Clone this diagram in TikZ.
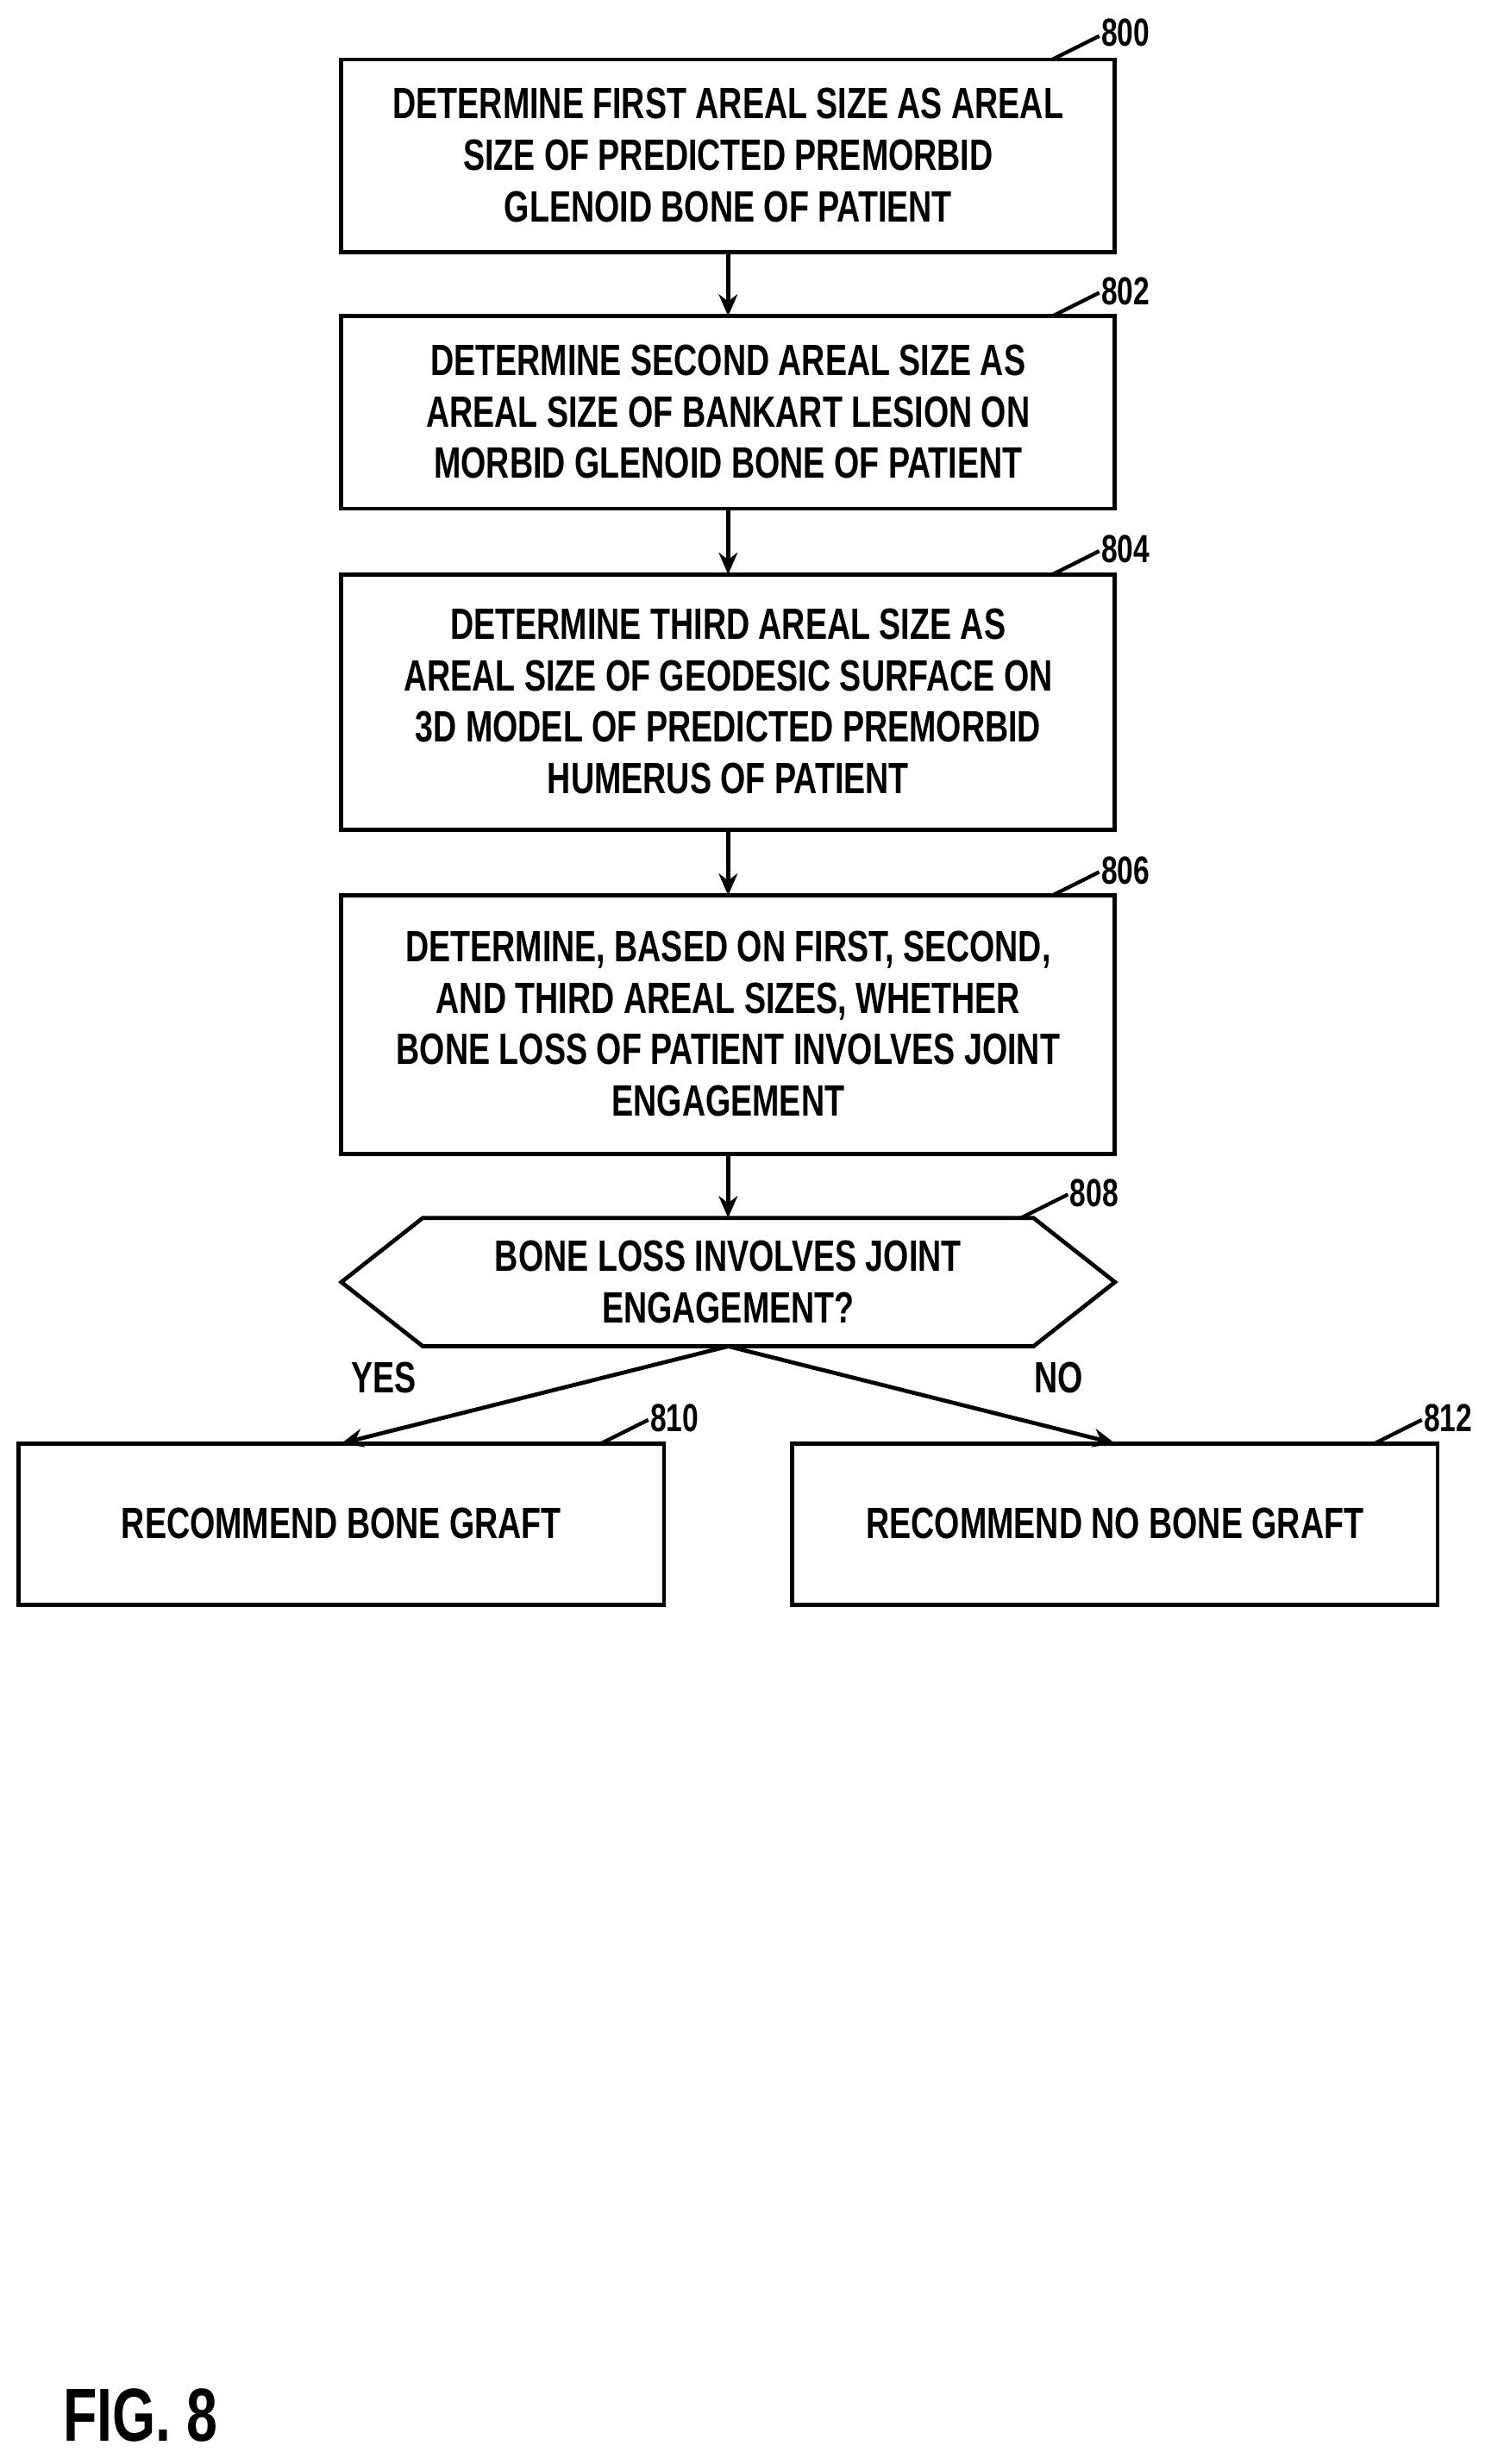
\documentclass[tikz,border=0pt]{standalone}
\usepackage{fontspec}
\setmainfont{Liberation Sans}[FakeStretch=0.74]
\usetikzlibrary{arrows.meta}
\begin{document}
\begin{tikzpicture}[x=0.5pt,y=-0.5pt,
 box/.style={draw,line width=1.3pt,inner sep=0pt},
 txt/.style={align=center,font=\bfseries\fontsize{14}{16.5}\selectfont},
 lab/.style={font=\bfseries\fontsize{12.5}{14}\selectfont,anchor=west,inner sep=0pt},
 tick/.style={line width=1.2pt},
 arr/.style={line width=1.3pt,-{Stealth[length=7pt,width=6pt]}}]
\useasboundingbox (0,0) rectangle (960,1574);
\draw[box] (218,38) rectangle (712,161);
\node[txt] (b800) at (465,99) {DETERMINE FIRST AREAL SIZE AS AREAL\\SIZE OF PREDICTED PREMORBID\\GLENOID BONE OF PATIENT};
\draw[box] (218,202) rectangle (712,325);
\node[txt] (b802) at (465,263) {DETERMINE SECOND AREAL SIZE AS\\AREAL SIZE OF BANKART LESION ON\\MORBID GLENOID BONE OF PATIENT};
\draw[box] (218,367) rectangle (712,530);
\node[txt] (b804) at (465,448) {DETERMINE THIRD AREAL SIZE AS\\AREAL SIZE OF GEODESIC SURFACE ON\\3D MODEL OF PREDICTED PREMORBID\\HUMERUS OF PATIENT};
\draw[box] (218,572) rectangle (712,737);
\node[txt] (b806) at (465,654) {DETERMINE, BASED ON FIRST, SECOND,\\AND THIRD AREAL SIZES, WHETHER\\BONE LOSS OF PATIENT INVOLVES JOINT\\ENGAGEMENT};
\draw[box] (218,819) -- (270,778) -- (660,778) -- (712,819) -- (660,860) -- (270,860) -- cycle;
\node[txt] (b808) at (465,819) {BONE LOSS INVOLVES JOINT\\ENGAGEMENT?};
\draw[box] (12,922) rectangle (424,1025);
\node[txt] (b810) at (218,973) {RECOMMEND BONE GRAFT};
\draw[box] (506,922) rectangle (918,1025);
\node[txt] (b812) at (712,973) {RECOMMEND NO BONE GRAFT};
\coordinate (t800) at (465,161); \coordinate (h802) at (465,202);
\coordinate (t802) at (465,325); \coordinate (h804) at (465,367);
\coordinate (t804) at (465,530); \coordinate (h806) at (465,572);
\coordinate (t806) at (465,737); \coordinate (h808) at (465,778);
\coordinate (t808) at (465,860);
\draw[arr] (t800) -- (h802);
\draw[arr] (t802) -- (h804);
\draw[arr] (t804) -- (h806);
\draw[arr] (t806) -- (h808);
\draw[arr] (t808) -- (218,922);
\draw[arr] (t808) -- (712,922);
\node[txt] (yes) at (245,880) {YES};
\node[txt] (no) at (676,880) {NO};
\draw[tick] (672,38) .. controls (688,30) .. (702,23); \node[lab] (l800) at (703,21) {800};
\draw[tick] (672,202) .. controls (688,194) .. (702,187); \node[lab] (l802) at (703,186) {802};
\draw[tick] (672,367) .. controls (688,359) .. (702,352); \node[lab] (l804) at (703,351) {804};
\draw[tick] (672,572) .. controls (688,564) .. (702,557); \node[lab] (l806) at (703,556) {806};
\draw[tick] (652,778) .. controls (668,770) .. (682,763); \node[lab] (l808) at (683,762) {808};
\draw[tick] (384,922) .. controls (400,914) .. (414,907); \node[lab] (l810) at (415,906) {810};
\draw[tick] (878,922) .. controls (894,914) .. (908,907); \node[lab] (l812) at (909,906) {812};
\node[font=\bfseries\fontsize{24}{28}\selectfont,anchor=west,inner sep=0pt] (fig) at (40,1543) {FIG. 8};
\end{tikzpicture}
\end{document}
